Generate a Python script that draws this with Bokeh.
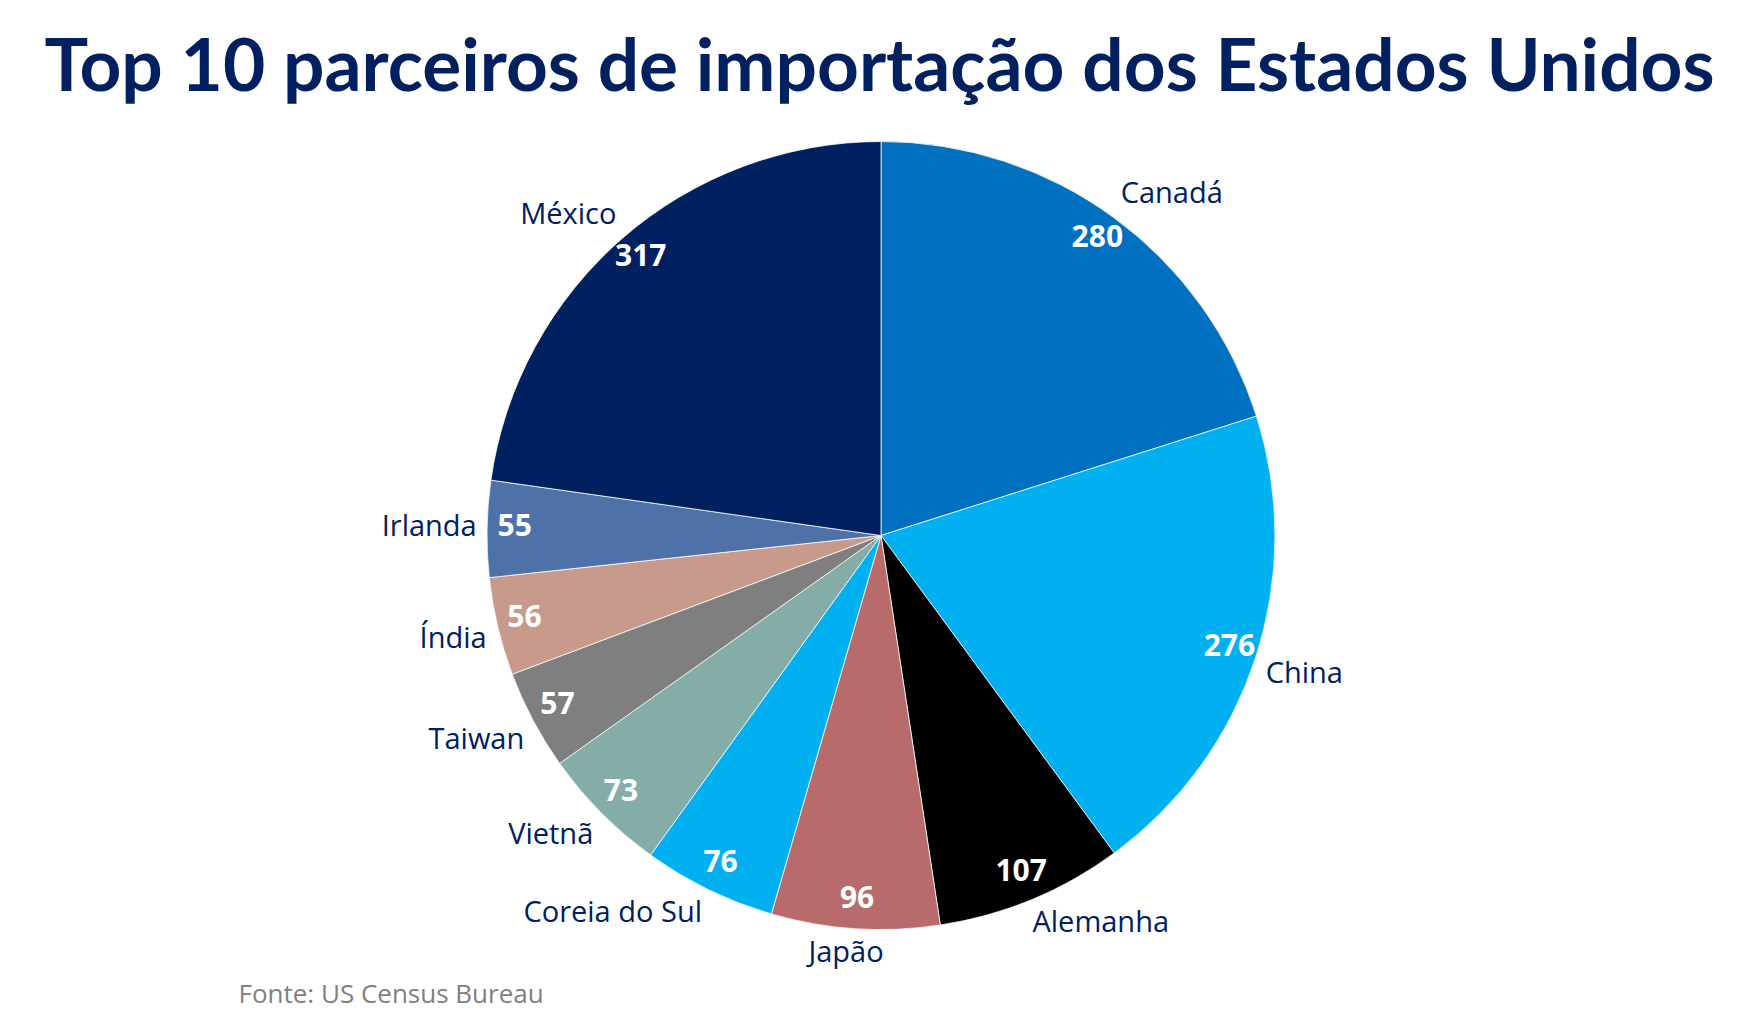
import numpy as np
from bokeh.plotting import figure
from bokeh.models import Range1d, ColumnDataSource
from bokeh.core.properties import value
from bokeh.embed import file_html
from bokeh.resources import INLINE

countries = ["Canadá", "China", "Alemanha", "Japão", "Coreia do Sul",
             "Vietnã", "Taiwan", "Índia", "Irlanda", "México"]
imports = [280, 276, 107, 96, 76, 73, 57, 56, 55, 317]
colors = ["#0070C0", "#00B0F0", "#000000", "#B86B6B", "#00B0F0",
          "#84ADA8", "#7F7F7F", "#C89A8B", "#4E71A8", "#002060"]
title_text = "Top 10 parceiros de importação dos Estados Unidos"
source_text = "Fonte: US Census Bureau"

W, H = 1743, 1012
cx, cy, R = 880.5, 477.0, 394.0
LABEL_FS = 29
VAL_FS = 30

vals = np.array(imports, dtype=float)
cum = np.concatenate([[0], np.cumsum(vals)])
frac_start = cum[:-1] / cum[-1]
frac_end = cum[1:] / cum[-1]
start = np.pi / 2 - frac_start * 2 * np.pi
end = np.pi / 2 - frac_end * 2 * np.pi
mid = (start + end) / 2


def text_width(s, fs):
    narrow = set("iíjlrtfIÍ ")
    return sum(0.3 if ch in narrow else 0.6 for ch in s) * fs


# outside labels: nearest corner of the label box sits just outside the rim
est_w = np.array([text_width(c, LABEL_FS) for c in countries])
est_h = 30.0
rim = R + 10
fx = np.clip(3 * np.cos(mid), -1, 1)
fy = np.clip(3 * np.sin(mid), -1, 1)
lx = cx + rim * np.cos(mid) + fx * est_w / 2
ly = cy + rim * np.sin(mid) + fy * est_h / 2 + 3

src = ColumnDataSource(dict(
    country=countries, val=[str(v) for v in imports], color=colors,
    start=start, end=end, lx=lx, ly=ly,
    vx=cx + 0.93 * R * np.cos(mid), vy=cy + 0.93 * R * np.sin(mid) + 4,
))

p = figure(width=W, height=H, x_range=Range1d(0, W), y_range=Range1d(0, H),
           output_backend="svg", toolbar_location=None, min_border=0)
p.axis.visible = False
p.grid.visible = False
p.outline_line_color = None
p.background_fill_color = "white"
p.border_fill_color = "white"

p.wedge(x=cx, y=cy, radius=R, start_angle="start", end_angle="end",
        direction="clock", fill_color="color", line_color="white",
        line_width=0.75, source=src)

p.text(x="lx", y="ly", text="country", source=src, text_align="center",
       text_baseline="middle", text_font=value("Open Sans"),
       text_font_size=f"{LABEL_FS}px", text_color="#002060")
p.text(x="vx", y="vy", text="val", source=src, text_align="center",
       text_baseline="middle", text_font=value("Open Sans"),
       text_font_style="bold", text_font_size=f"{VAL_FS}px", text_color="white")

p.text(x=[879], y=[950], text=[title_text], text_align="center",
       text_baseline="alphabetic", text_font=value("Lato"),
       text_font_style="bold", text_font_size="73px", text_color="#002060")
p.text(x=[238], y=[20], text=[source_text], text_align="left",
       text_baseline="alphabetic", text_font=value("Open Sans"),
       text_font_size="26px", text_color="#808080")

open("out.html", "w").write(file_html(p, INLINE))
